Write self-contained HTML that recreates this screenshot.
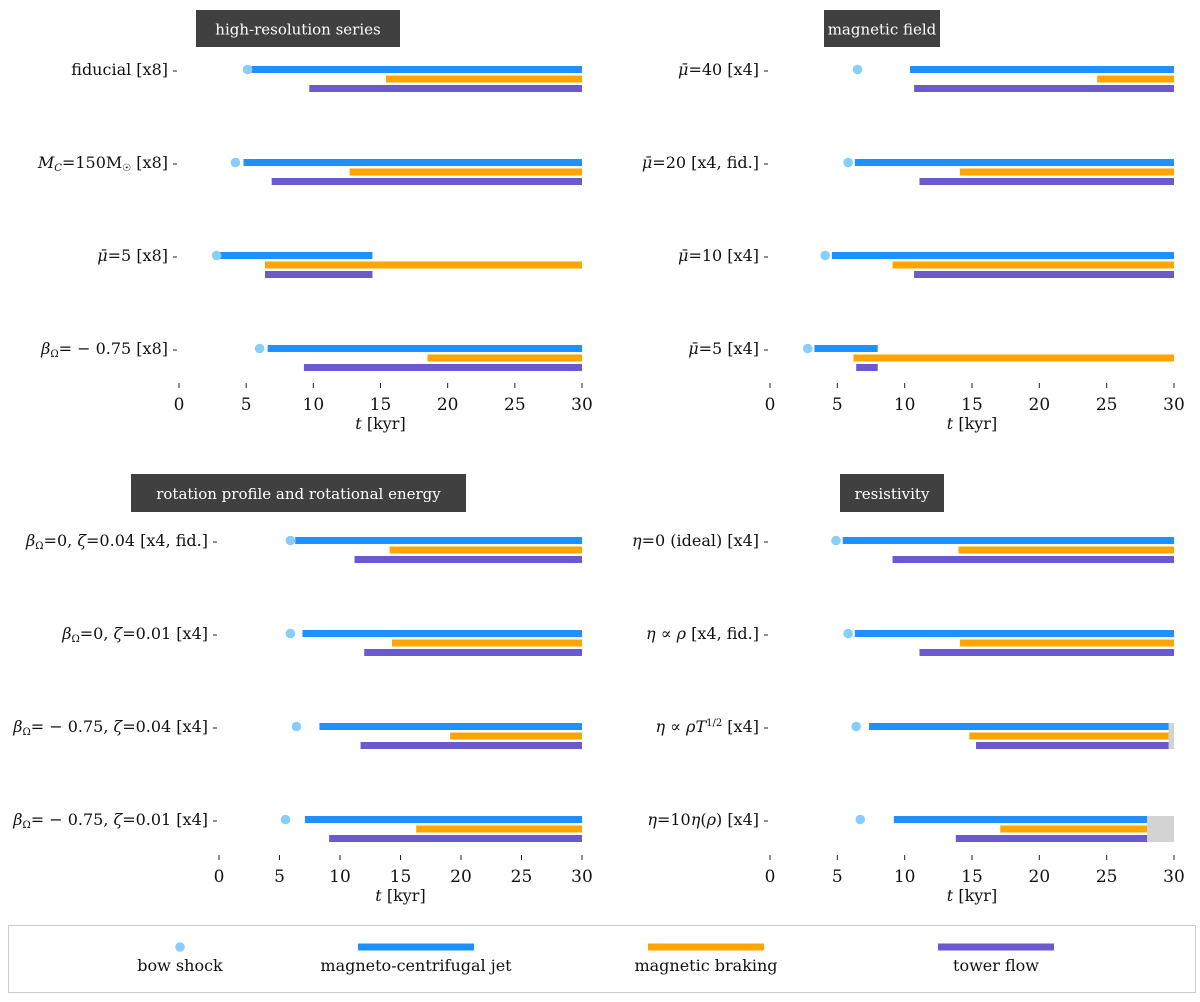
<!DOCTYPE html>
<html><head><meta charset="utf-8"><style>
body{margin:0;background:#fff;}
svg text{font-family:"DejaVu Serif","Liberation Serif",serif;fill:#111;}
</style></head><body>
<svg id="fig" width="1200" height="997" viewBox="0 0 1200 997" xmlns="http://www.w3.org/2000/svg"></svg>
<script>
// ---- data ----
const panelTitles = ["high-resolution series","magnetic field","rotation profile and rotational energy","resistivity"];
const labelsTL = ['fiducial [x8]','<tspan font-style="italic">M</tspan><tspan font-style="italic" font-size="10" dy="3">C</tspan><tspan dy="-3">=150M</tspan><tspan font-size="10" dy="3">☉</tspan><tspan dy="-3"> [x8]</tspan>','<tspan font-style="italic">μ̄</tspan>=5 [x8]','<tspan font-style="italic">β</tspan><tspan font-size="10" dy="3">Ω</tspan><tspan dy="-3">= − 0.75 [x8]</tspan>'];
const labelsTR = ['<tspan font-style="italic">μ̄</tspan>=40 [x4]','<tspan font-style="italic">μ̄</tspan>=20 [x4, fid.]','<tspan font-style="italic">μ̄</tspan>=10 [x4]','<tspan font-style="italic">μ̄</tspan>=5 [x4]'];
const labelsBL = ['<tspan font-style="italic">β</tspan><tspan font-size="10" dy="3">Ω</tspan><tspan dy="-3">=0, </tspan><tspan font-style="italic">ζ</tspan>=0.04 [x4, fid.]','<tspan font-style="italic">β</tspan><tspan font-size="10" dy="3">Ω</tspan><tspan dy="-3">=0, </tspan><tspan font-style="italic">ζ</tspan>=0.01 [x4]','<tspan font-style="italic">β</tspan><tspan font-size="10" dy="3">Ω</tspan><tspan dy="-3">= − 0.75, </tspan><tspan font-style="italic">ζ</tspan>=0.04 [x4]','<tspan font-style="italic">β</tspan><tspan font-size="10" dy="3">Ω</tspan><tspan dy="-3">= − 0.75, </tspan><tspan font-style="italic">ζ</tspan>=0.01 [x4]'];
const labelsBR = ['<tspan font-style="italic">η</tspan>=0 (ideal) [x4]','<tspan font-style="italic">η</tspan> ∝ <tspan font-style="italic">ρ</tspan> [x4, fid.]','<tspan font-style="italic">η</tspan> ∝ <tspan font-style="italic">ρT</tspan><tspan font-size="10" dy="-6">1/2</tspan><tspan dy="6"> [x4]</tspan>','<tspan font-style="italic">η</tspan>=10<tspan font-style="italic">η</tspan>(<tspan font-style="italic">ρ</tspan>) [x4]'];
const bowTL=[5.1,4.2,2.8,6.0], jetStartTL=[5.4,4.8,3.0,6.6], jetEndTL=[30,30,14.4,30], brakeStartTL=[15.4,12.7,6.4,18.5], brakeEndTL=[30,30,30,30], towerStartTL=[9.7,6.9,6.4,9.3], towerEndTL=[30,30,14.4,30], simEndTL=[30,30,30,30];
const bowTR=[6.5,5.8,4.1,2.8], jetStartTR=[10.4,6.3,4.6,3.3], jetEndTR=[30,30,30,8.0], brakeStartTR=[24.3,14.1,9.1,6.2], brakeEndTR=[30,30,30,30], towerStartTR=[10.7,11.1,10.7,6.4], towerEndTR=[30,30,30,8.0], simEndTR=[30,30,30,30];
const bowBL=[5.9,5.9,6.4,5.5], jetStartBL=[6.3,6.9,8.3,7.1], jetEndBL=[30,30,30,30], brakeStartBL=[14.1,14.3,19.1,16.3], brakeEndBL=[30,30,30,30], towerStartBL=[11.2,12.0,11.7,9.1], towerEndBL=[30,30,30,30], simEndBL=[30,30,30,30];
const bowBR=[4.9,5.8,6.4,6.7], jetStartBR=[5.4,6.3,7.35,9.2], jetEndBR=[30,30,29.6,28], brakeStartBR=[14.0,14.1,14.8,17.1], brakeEndBR=[30,30,29.6,28], towerStartBR=[9.1,11.1,15.3,13.8], towerEndBR=[30,30,29.6,28], simEndBR=[30,30,29.6,28];
const tickVals=[0,5,10,15,20,25,30];

const svg=document.getElementById('fig');
const NS='http://www.w3.org/2000/svg';
function mk(tag,attrs,parent){const e=document.createElementNS(NS,tag);for(const k in attrs)e.setAttribute(k,attrs[k]);(parent||svg).appendChild(e);return e;}
const C={jet:'#1e90ff',brake:'#ffa500',tower:'#6a5acd',bow:'#87cefa',grey:'#d3d3d3'};

const panels=[
 {id:'tl',x0:179,x1:582,rows:[70,163,256,349],tickY:385,title:panelTitles[0],tb:[196,10,204,37],labels:labelsTL,d:[bowTL,jetStartTL,jetEndTL,brakeStartTL,brakeEndTL,towerStartTL,towerEndTL,simEndTL]},
 {id:'tr',x0:770,x1:1174,rows:[70,163,256,349],tickY:385,title:panelTitles[1],tb:[824,10,116,37],labels:labelsTR,d:[bowTR,jetStartTR,jetEndTR,brakeStartTR,brakeEndTR,towerStartTR,towerEndTR,simEndTR]},
 {id:'bl',x0:219,x1:582,rows:[541,634,727,820],tickY:857,title:panelTitles[2],tb:[131,474,335,38],labels:labelsBL,d:[bowBL,jetStartBL,jetEndBL,brakeStartBL,brakeEndBL,towerStartBL,towerEndBL,simEndBL]},
 {id:'br',x0:770,x1:1174,rows:[541,634,727,820],tickY:857,title:panelTitles[3],tb:[840,474,104,38],labels:labelsBR,d:[bowBR,jetStartBR,jetEndBR,brakeStartBR,brakeEndBR,towerStartBR,towerEndBR,simEndBR]}
];

panels.forEach(p=>{
  const g=mk('g',{});
  
  
  const xs=v=>p.x0+(p.x1-p.x0)*v/30;
  const tr=mk('rect',{x:p.tb[0],y:p.tb[1],width:p.tb[2],height:p.tb[3],fill:'#404040'},g);
  
  
  const tt=mk('text',{x:p.tb[0]+p.tb[2]/2,y:p.tb[1]+p.tb[3]/2+6,'text-anchor':'middle','font-size':'15',style:'fill:#fff'},g);
  tt.textContent=p.title;
  
  
  const [bow,js,je,bs,be,ts,te,se]=p.d;
  p.rows.forEach((y,i)=>{
    const lab=mk('text',{x:p.x0-11,y:y+5,'text-anchor':'end','font-size':'16'},g);
    lab.innerHTML=p.labels[i];
    
    
    mk('line',{x1:p.x0-6,x2:p.x0-2,y1:y+1,y2:y+1,stroke:'#222','stroke-width':1},g);
    if(se[i]<30){
      const gr=mk('rect',{x:xs(se[i]),y:y-4,width:xs(30)-xs(se[i]),height:26,fill:C.grey},g);
      
      
    }
    const jb=mk('rect',{x:xs(js[i]),y:y-4,width:xs(je[i])-xs(js[i]),height:7,fill:C.jet},g);
    
    
    const bb=mk('rect',{x:xs(bs[i]),y:y+5.5,width:xs(be[i])-xs(bs[i]),height:7,fill:C.brake},g);
    
    
    const tb=mk('rect',{x:xs(ts[i]),y:y+15,width:xs(te[i])-xs(ts[i]),height:7,fill:C.tower},g);
    
    
    const c=mk('circle',{cx:xs(bow[i]),cy:y-0.5,r:4.8,fill:C.bow},g);
    
    
  });
  tickVals.forEach(v=>{
    mk('line',{x1:xs(v),x2:xs(v),y1:p.tickY-2,y2:p.tickY+3,stroke:'#222','stroke-width':1},g);
    const t=mk('text',{x:xs(v),y:p.tickY+25,'text-anchor':'middle','font-size':'17'},g);
    t.textContent=v;
    
    
  });
  const xl=mk('text',{x:(p.x0+p.x1)/2,y:p.tickY+44,'text-anchor':'middle','font-size':'16'},g);
  xl.innerHTML='<tspan font-style="italic">t</tspan> [kyr]';
  
  
});

const lg=mk('g',{});


mk('rect',{x:8.5,y:925.5,width:1187,height:67,fill:'#fff',stroke:'#ccc','stroke-width':1},lg);
const legItems=[['bow shock',180,'bow'],['magneto-centrifugal jet',416,'jet'],['magnetic braking',706,'brake'],['tower flow',996,'tower']];
legItems.forEach(([name,cx,k])=>{
  if(k==='bow'){mk('circle',{cx:cx,cy:947,r:4.8,fill:C.bow},lg);}
  else{mk('rect',{x:cx-58,y:943.5,width:116,height:7,fill:C[k]},lg);}
  const t=mk('text',{x:cx,y:971,'text-anchor':'middle','font-size':'16'},lg);
  t.textContent=name;
  
  
});
</script>
</body></html>
